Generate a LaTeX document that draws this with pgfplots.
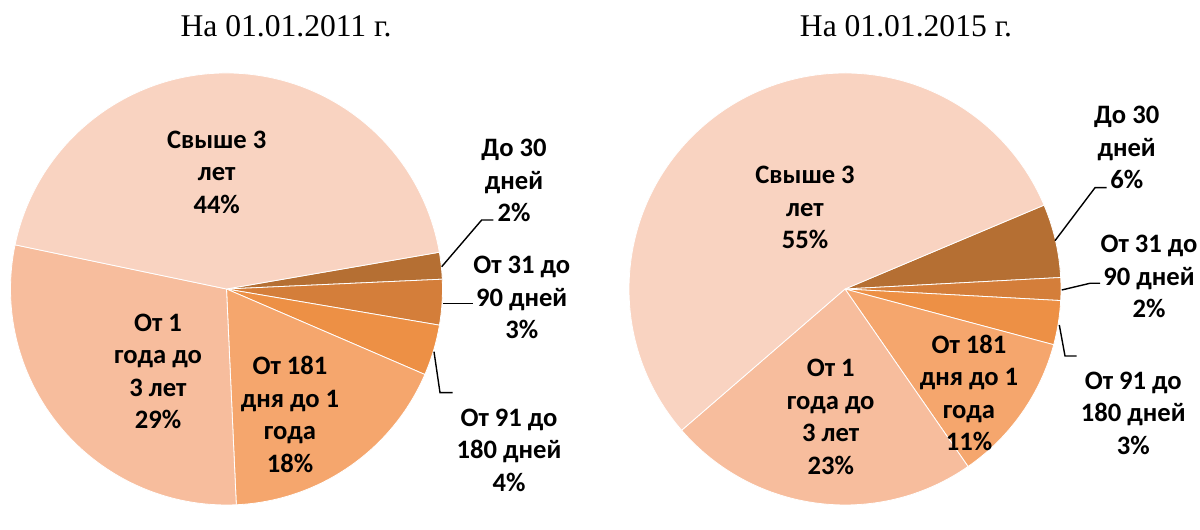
\documentclass[border=0pt]{standalone}
\usepackage{pgfplots}
\pgfplotsset{compat=1.18}
\usepackage{pgfplotstable}
\usepackage{fontspec}
\setmainfont{Liberation Serif}
\newfontfamily\labfont{Carlito}

\definecolor{cOver}{HTML}{F9D3C1}
\definecolor{cOneThree}{HTML}{F7BD9D}
\definecolor{cHalf}{HTML}{F5A66D}
\definecolor{cNinety}{HTML}{ED9045}
\definecolor{cThirty}{HTML}{D47E3A}
\definecolor{cUpTo}{HTML}{B56F33}

% 01.01.2011
\pgfplotstableread{
value color
2.0 cUpTo
3.4 cThirty
3.8 cNinety
17.8 cHalf
29.0 cOneThree
44.0 cOver
}\pieA
% 01.01.2015
\pgfplotstableread{
value color
5.5 cUpTo
1.7 cThirty
3.3 cNinety
11.2 cHalf
23.3 cOneThree
55.0 cOver
}\pieB

% #1 table, #2 cx, #3 cy, #4 radius (axis units), #5 start angle
\newcommand\drawpie[5]{%
  \pgfplotstablegetrowsof{#1}%
  \pgfmathtruncatemacro\lastrow{\pgfplotsretval-1}%
  \edef\curang{#5}%
  \pgfmathsetmacro\rpt{#4*0.5}%
  \pgfplotsforeachungrouped \i in {0,...,\lastrow}{%
    \pgfplotstablegetelem{\i}{value}\of{#1}\let\val\pgfplotsretval
    \pgfplotstablegetelem{\i}{color}\of{#1}\let\col\pgfplotsretval
    \pgfmathsetmacro\endang{\curang-3.6*\val}%
    \pgfmathsetmacro\sx{#2+#4*cos(\curang)}%
    \pgfmathsetmacro\sy{#3+#4*sin(\curang)}%
    \edef\temp{\noexpand\fill[\col, draw=white, line width=0.4pt, line join=round]
      (axis cs:#2,#3) -- (axis cs:\sx,\sy)
      arc[start angle=\curang, end angle=\endang, radius=\rpt pt] -- cycle;}%
    \temp
    \let\curang\endang
  }%
}

\tikzset{lab/.style={font=\labfont\bfseries\fontsize{13.3}{16.25}\selectfont, align=center, inner sep=0pt},
  ttl/.style={font=\fontsize{15.8}{18}\selectfont, inner sep=0pt},
  lead/.style={line width=0.7pt, black}}

\begin{document}
\begin{tikzpicture}
\begin{axis}[x=0.5pt, y=0.5pt, xmin=0, xmax=1200, ymin=0, ymax=505,
  hide axis, clip=false, scale only axis]
  \path (axis cs:0,0) rectangle (axis cs:1200,505);
  \drawpie{\pieA}{226.5}{216}{216}{9.8}
  \drawpie{\pieB}{845}{216}{216}{22.85}

  % titles
  \node[ttl] at (axis cs:286,479) {На 01.01.2011 г.};
  \node[ttl] at (axis cs:906,479) {На 01.01.2015 г.};

  % leader lines left
  \draw[lead] (axis cs:441.7,238.3) -- (axis cs:481.7,285) -- (axis cs:493.3,285);
  \draw[lead] (axis cs:443.3,201.7) -- (axis cs:473.3,201.7);
  \draw[lead] (axis cs:434,153.3) -- (axis cs:440,112.3) -- (axis cs:452.7,112.3);
  % leader lines right
  \draw[lead] (axis cs:1055,264.3) -- (axis cs:1095,317.3) -- (axis cs:1106.7,317.3);
  \draw[lead] (axis cs:1061.7,215) -- (axis cs:1090,221.7) -- (axis cs:1100,221.7);
  \draw[lead] (axis cs:1059.3,180) -- (axis cs:1065,149) -- (axis cs:1076.7,149);

  % labels left
  \node[lab] at (axis cs:216.7,333) {Свыше 3\\лет\\44\%};
  \node[lab] at (axis cs:158,133.5) {От 1\\года до\\3 лет\\29\%};
  \node[lab] at (axis cs:290,90.5) {От 181\\дня до 1\\года\\18\%};
  \node[lab] at (axis cs:514,324.5) {До 30\\дней\\2\%};
  \node[lab] at (axis cs:521.7,207.5) {От 31 до\\90 дней\\3\%};
  \node[lab] at (axis cs:509,55) {От 91 до\\180 дней\\4\%};

  % labels right
  \node[lab] at (axis cs:805,297.5) {Свыше 3\\лет\\55\%};
  \node[lab] at (axis cs:830.7,88) {От 1\\года до\\3 лет\\23\%};
  \node[lab] at (axis cs:969,112) {От 181\\дня до 1\\года\\11\%};
  \node[lab] at (axis cs:1126.7,357.5) {До 30\\дней\\6\%};
  \node[lab] at (axis cs:1149,228.5) {От 31 до\\90 дней\\2\%};
  \node[lab] at (axis cs:1133.3,92) {От 91 до\\180 дней\\3\%};
\end{axis}
\end{tikzpicture}
\end{document}
